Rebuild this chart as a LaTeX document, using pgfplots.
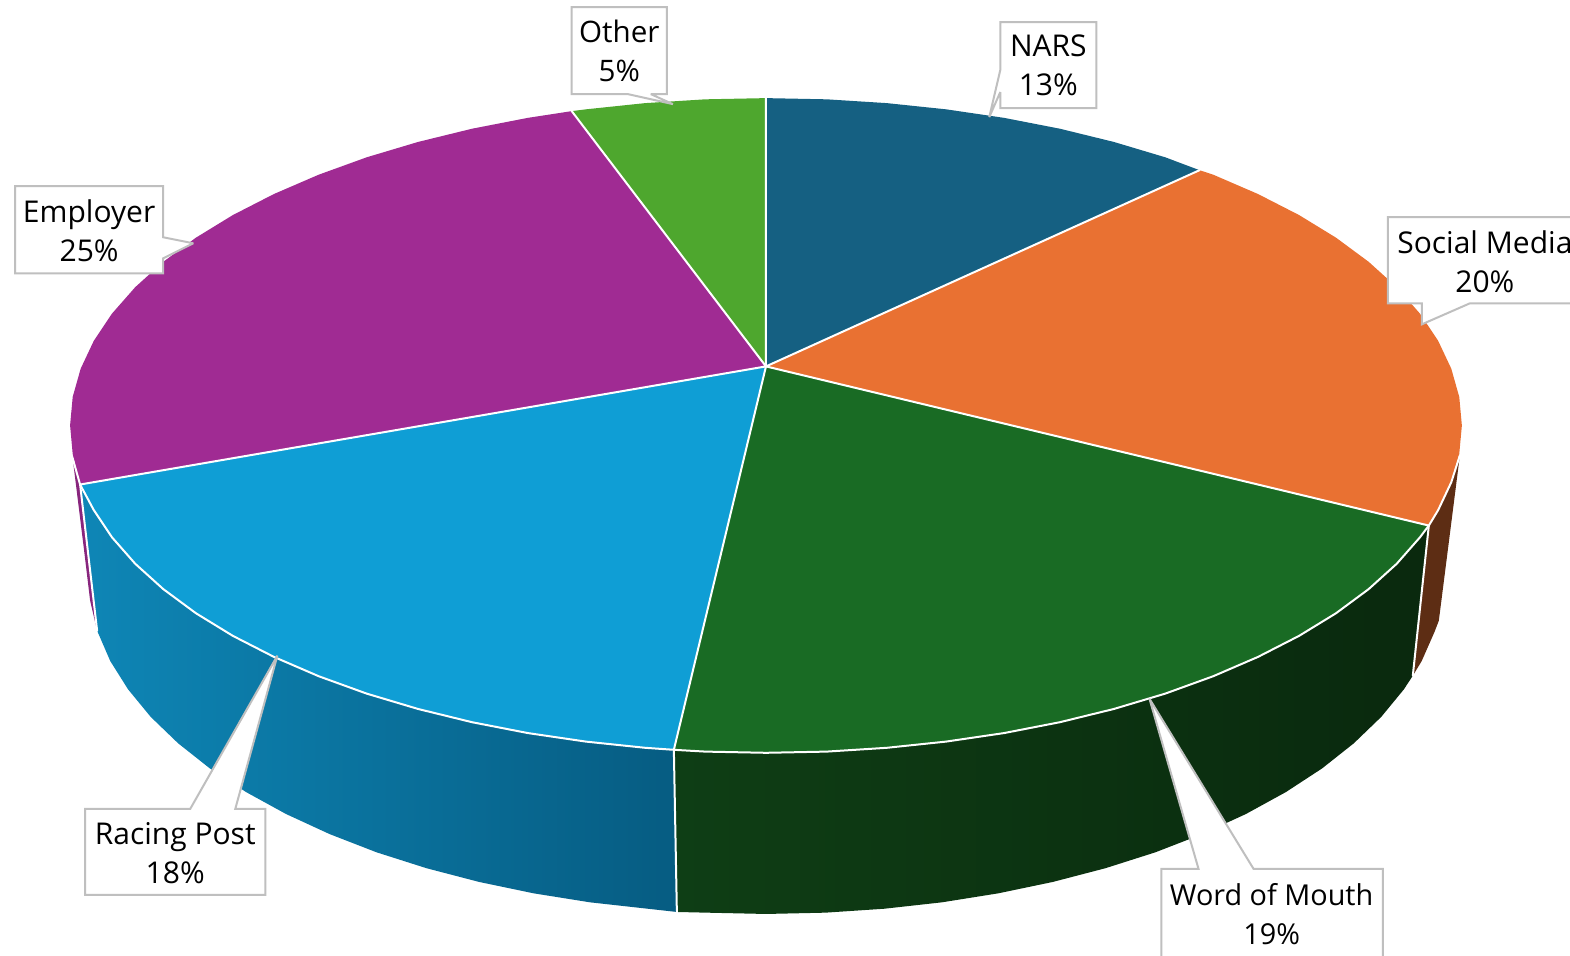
\documentclass[border=0pt]{standalone}
\usepackage{pgfplots}
\usepackage{fontspec}
\setmainfont{Open Sans}
\pgfplotsset{compat=1.18}

\definecolor{nars}{HTML}{156082}
\definecolor{social}{HTML}{E97132}
\definecolor{word}{HTML}{196B24}
\definecolor{racing}{HTML}{0F9ED5}
\definecolor{employer}{HTML}{A02B93}
\definecolor{other}{HTML}{4EA72E}
\definecolor{callout}{HTML}{BFBFBF}
\definecolor{sideL}{HTML}{0E86B6}
\definecolor{sideM}{HTML}{0A76A5}
\definecolor{sideR}{HTML}{065C82}

\pgfplotsset{
  edge/.style={draw=white,line width=1pt,line join=round,line cap=round},
  box/.style={draw=callout,fill=white,line width=1pt,line join=miter,miter limit=2},
}

\begin{document}
\begin{tikzpicture}
\useasboundingbox (0,0) rectangle (785pt,477.5pt);
\clip (0,0) rectangle (785pt,477.5pt);
\begin{axis}[
  at={(0,0)},anchor=south west,
  scale only axis,width=785pt,height=477.5pt,
  xmin=0,xmax=1568,ymin=0,ymax=954,y dir=reverse,
  hide axis,
]
% side walls
\addplot[fill=employer!85!black,draw=none] coordinates {
  (72.6,458) (80,484) (97,630) (90,600) (84,550)
} -- cycle;
\addplot[fill=social!40!black,draw=none] coordinates {
  (1458,455) (1449.4,481.8) (1436.3,509.6) (1427,525) (1411,675)
  (1419.9,660.3) (1432.7,631.2) (1437,620)
} -- cycle;
\addplot[draw=none,left color=sideL,middle color=sideM,right color=sideR] coordinates {
  (673,749) (644.3,747) (585.1,740.8) (527.3,732.3) (471.3,721.4) (417.5,708.2)
  (366.3,692.9) (318.3,675.5) (273.6,656.2) (232.6,635.2) (195.7,612.6)
  (163.1,588.5) (135.1,563.2) (111.9,536.8) (93.7,509.6) (80,484)
  (97,630) (110.1,660.3) (127.9,688.6) (150.5,716.1) (177.9,742.5) (209.6,767.6)
  (245.7,791.2) (285.6,813.1) (329.2,833.2) (376.1,851.4) (426,867.3)
  (478.5,881) (533.1,892.4) (589.5,901.4) (647.3,907.8) (676,911)
} -- cycle;
\addplot[draw=none,left color=word!58!black,right color=word!38!black] coordinates {
  (1427,525) (1418.1,536.8) (1394.9,563.2) (1366.9,588.5) (1334.3,612.6)
  (1297.4,635.2) (1256.4,656.2) (1211.7,675.5) (1163.7,692.9) (1112.5,708.2)
  (1058.7,721.4) (1002.7,732.3) (944.9,740.8) (885.7,747) (825.6,750.8)
  (765,752) (704.4,750.8) (673,749)
  (676,911) (705.9,911.7) (765,913) (824.1,911.7) (882.7,907.8) (940.5,901.4)
  (996.9,892.4) (1051.5,881) (1104,867.3) (1153.9,851.4) (1200.8,833.2)
  (1244.4,813.1) (1284.3,791.2) (1320.4,767.6) (1352.1,742.5) (1379.5,716.1)
  (1402.1,688.6) (1411,675)
} -- cycle;
% top wedges
\addplot[fill=nars,draw=none] coordinates {
  (765,366) (765,98) (825.6,99.2) (885.7,103) (944.9,109.2) (1002.7,117.7)
  (1058.7,128.6) (1112.5,141.8) (1163.7,157.1) (1198,170)
} -- cycle;
\addplot[fill=social,draw=none] coordinates {
  (765,366) (1198,170) (1211.7,174.5) (1256.4,193.8) (1297.4,214.8) (1334.3,237.4)
  (1366.9,261.5) (1394.9,286.8) (1418.1,313.2) (1436.3,340.4) (1449.4,368.2)
  (1457.4,396.5) (1460,425) (1457.4,453.5) (1449.4,481.8) (1436.3,509.6) (1427,525)
} -- cycle;
\addplot[fill=word,draw=none] coordinates {
  (765,366) (1427,525) (1418.1,536.8) (1394.9,563.2) (1366.9,588.5) (1334.3,612.6)
  (1297.4,635.2) (1256.4,656.2) (1211.7,675.5) (1163.7,692.9) (1112.5,708.2)
  (1058.7,721.4) (1002.7,732.3) (944.9,740.8) (885.7,747) (825.6,750.8)
  (765,752) (704.4,750.8) (673,749)
} -- cycle;
\addplot[fill=racing,draw=none] coordinates {
  (765,366) (673,749) (644.3,747) (585.1,740.8) (527.3,732.3) (471.3,721.4)
  (417.5,708.2) (366.3,692.9) (318.3,675.5) (273.6,656.2) (232.6,635.2)
  (195.7,612.6) (163.1,588.5) (135.1,563.2) (111.9,536.8) (93.7,509.6) (80,484)
} -- cycle;
\addplot[fill=employer,draw=none] coordinates {
  (765,366) (80,484) (72.6,453.5) (70,425) (72.6,396.5) (80.6,368.2) (93.7,340.4)
  (111.9,313.2) (135.1,286.8) (163.1,261.5) (195.7,237.4) (232.6,214.8)
  (273.6,193.8) (318.3,174.5) (366.3,157.1) (417.5,141.8) (471.3,128.6)
  (527.3,117.7) (571,111)
} -- cycle;
\addplot[fill=other,draw=none] coordinates {
  (765,366) (571,111) (585.1,109.2) (644.3,103) (704.4,99.2) (765,98)
} -- cycle;
% white edges: radii, front rim, vertical seams
\addplot[edge] coordinates {(765,98) (765,366) (1198,170)};
\addplot[edge] coordinates {(571,111) (765,366) (80,484)};
\addplot[edge] coordinates {(1427,525) (765,366) (673,749) (676,911)};
\addplot[edge] coordinates {(1427,525) (1411,675)};
\addplot[edge] coordinates {(80,484) (97,630)};
\addplot[edge] coordinates {
  (1427,525) (1418.1,536.8) (1394.9,563.2) (1366.9,588.5) (1334.3,612.6)
  (1297.4,635.2) (1256.4,656.2) (1211.7,675.5) (1163.7,692.9) (1112.5,708.2)
  (1058.7,721.4) (1002.7,732.3) (944.9,740.8) (885.7,747) (825.6,750.8)
  (765,752) (704.4,750.8) (673,749) (644.3,747) (585.1,740.8) (527.3,732.3)
  (471.3,721.4) (417.5,708.2) (366.3,692.9) (318.3,675.5) (273.6,656.2)
  (232.6,635.2) (195.7,612.6) (163.1,588.5) (135.1,563.2) (111.9,536.8)
  (93.7,509.6) (80,484)
};
\addplot[edge] coordinates {(1427,525) (1436.3,509.6) (1449.4,481.8) (1458,455)};
\addplot[edge] coordinates {(80,484) (72.6,458)};
% callouts
\addplot[box] coordinates {
  (571,7) (666,7) (666,94) (650,94) (672,104) (627,94) (571,94)
} -- cycle;
\addplot[box] coordinates {
  (999,22) (1095,22) (1095,108) (999,108) (999,92) (988,117) (999,70)
} -- cycle;
\addplot[box] coordinates {
  (1386,217) (1600,217) (1600,303) (1468,303) (1420,324) (1420,303) (1386,303)
} -- cycle;
\addplot[box] coordinates {
  (1160,868) (1197,868) (1148,698) (1252,868) (1381,868) (1381,1000) (1160,1000)
} -- cycle;
\addplot[box] coordinates {
  (85,808) (190,808) (277,655) (235,808) (265,808) (265,894) (85,894)
} -- cycle;
\addplot[box] coordinates {
  (15,186) (163,186) (163,237) (193,243) (163,258) (163,273) (15,273)
} -- cycle;
% labels
\tikzset{lab/.style={align=center,inner sep=0pt,text=black,
  font=\fontsize{15}{19.5}\selectfont}}
\node[lab,font=\fontsize{14.8}{19.5}\selectfont] at (axis cs:618.5,51) {Other\\5\%};
\node[lab] at (axis cs:1047,65) {NARS\\13\%};
\node[lab] at (axis cs:1483,261) {Social Media\\20\%};
\node[lab,font=\fontsize{14.4}{19.5}\selectfont] at (axis cs:1270,913) {Word of Mouth\\19\%};
\node[lab] at (axis cs:175,852.5) {Racing Post\\18\%};
\node[lab] at (axis cs:89,230) {Employer\\25\%};
\end{axis}
\end{tikzpicture}
\end{document}
